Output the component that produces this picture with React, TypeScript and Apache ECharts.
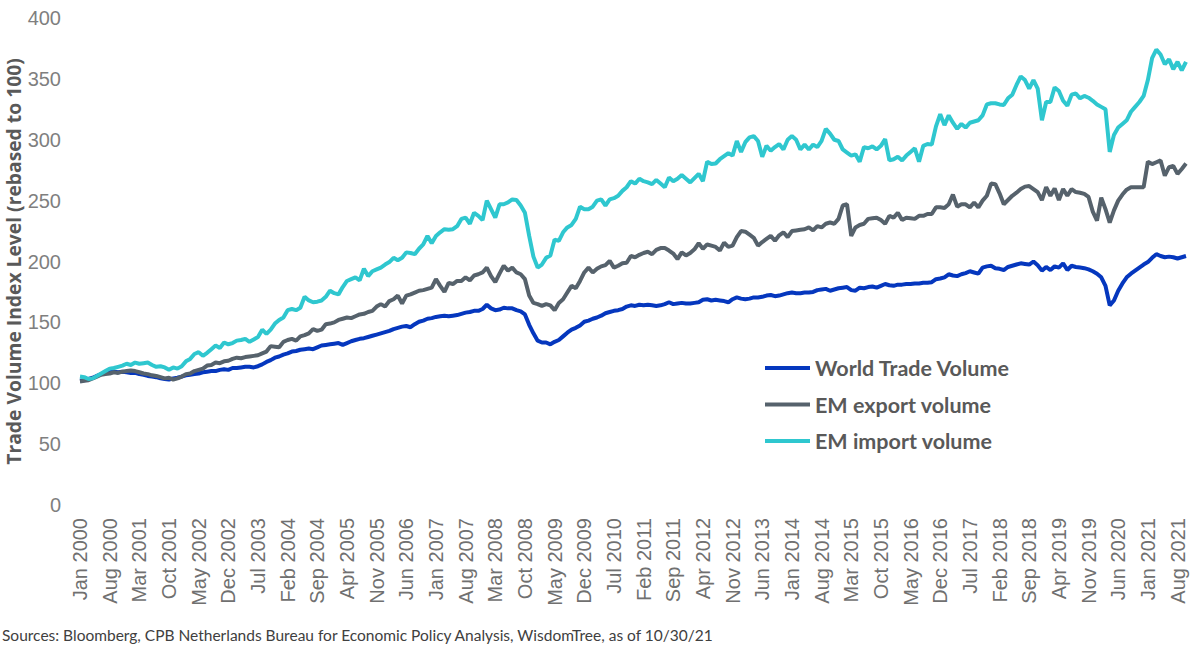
import React, { useEffect, useRef } from "react";
import * as echarts from "echarts";

// Monthly values, Jan 2000 – Oct 2021 (one row per year)
const worldTradeVolume: number[] = [
  102, 102.5, 103.5, 104.5, 106, 107.5, 108.5, 109, 109.5, 109, 109.5, 109,
  108.5, 108.5, 107.5, 107, 106, 105.5, 105, 104, 103.5, 103, 104, 104.5,
  105.5, 106.5, 107, 107.5, 108, 109, 109.5, 110, 110, 111, 111.5, 111,
  112.5, 112.5, 113, 113.5, 113.5, 113, 114, 115.5, 117.5, 119, 121, 122,
  123.5, 124.5, 126, 126.5, 127.5, 128, 128.5, 128, 129.5, 131, 131.5, 132,
  132.5, 133, 131.5, 133, 134.5, 135.5, 136.5, 137, 138, 139, 140, 141,
  142, 143, 144.5, 145.5, 146.5, 147, 146, 148.5, 150.5, 151.5, 153, 153.5,
  154.5, 155, 155.5, 155, 155.5, 156, 157, 158, 158.5, 159.5, 159.5, 161,
  164.5, 161.5, 160, 160.5, 162, 161.5, 161.5, 160, 159, 156.5, 148, 141,
  135, 133.5, 133.5, 132, 134, 135.5, 138.5, 141.5, 144, 145.5, 147.5, 150.5,
  151.5, 153, 154, 155.5, 157.5, 158.5, 159.5, 160, 161, 163, 164, 163.5,
  164.5, 164, 164.5, 164, 163.5, 164, 165, 166.5, 165, 165.5, 166, 165.5,
  165.5, 166, 166.5, 168.5, 169, 168, 168.5, 168, 167.5, 166.5, 169, 170.5,
  169.5, 169, 169.5, 170.5, 170.5, 171, 172, 172.5, 171.5, 172, 173, 174,
  174.5, 174, 174, 174.5, 174.5, 175, 176.5, 177, 177.5, 176, 177, 178,
  178.5, 179, 176.5, 176, 178.5, 178, 179, 179.5, 178.5, 180, 181.5, 180.5,
  180, 181, 181, 181.5, 181.5, 182, 182, 182.5, 182.5, 183, 185.5, 186,
  187, 189.5, 188.5, 188, 189.5, 190.5, 192, 191, 190, 195, 196, 196.5,
  194.5, 194, 193, 195.5, 196.5, 197.5, 198.5, 198, 197.5, 200, 197, 192.5,
  195.5, 193, 196, 195, 198.5, 193, 196.5, 195.5, 195, 194.5, 193.5, 192,
  190, 187, 180, 164, 168, 176, 182, 187, 190, 192.5, 195, 197.5,
  199.5, 203, 206, 204.5, 203.5, 204, 203.5, 202.5, 203.5, 204.5,
];

const emExportVolume: number[] = [
  101.5, 102, 102.5, 104, 105.5, 107, 107.5, 108, 109, 108.5, 109.5, 110,
  110.5, 110, 109, 108, 107.5, 106.5, 106, 105, 104, 104.5, 103, 104,
  105.5, 107.5, 108, 110, 111, 112, 114.5, 115, 117, 116.5, 118, 118.5,
  120, 121, 120.5, 121.5, 122, 122.5, 123, 124.5, 126, 130.5, 130, 129.5,
  134, 135.5, 136.5, 135, 138.5, 139.5, 141, 144.5, 143, 144, 148.5, 149,
  150, 152, 153, 154, 153.5, 155, 156.5, 157, 158.5, 159.5, 163, 165,
  163, 167.5, 169, 172, 165.5, 172, 173, 174.5, 176, 176.5, 177.5, 178.5,
  185.5, 180, 175, 182.5, 181.5, 184, 184, 187, 184.5, 188.5, 189.5, 191,
  195, 188, 183, 190, 196.5, 192.5, 195, 191, 189.5, 185.5, 172, 166,
  165, 163.5, 165, 164, 160, 166, 169, 174.5, 180, 178, 184, 191,
  195, 191, 194, 196, 197, 200.5, 195, 196.5, 198.5, 199, 204.5, 203.5,
  205.5, 207, 208, 206, 209.5, 211, 211, 209, 206.5, 202, 207.5, 205,
  207, 210, 215, 210.5, 214, 213, 212, 209, 215.5, 212, 213, 220,
  225, 224.5, 222, 219.5, 213, 216, 218.5, 221, 217, 221.5, 224, 220,
  225, 225.5, 226, 226.5, 228, 225.5, 229, 228, 231, 232, 231, 235,
  246, 247, 221, 228, 230, 231, 235, 235.5, 236, 234, 231, 237.5,
  236, 240, 234, 236, 235.5, 235, 237.5, 237.5, 239, 239, 244.5, 244.5,
  244, 247, 255, 245, 247, 247, 244.5, 248.5, 244.5, 250, 254, 264,
  263.5, 256, 247, 250.5, 254, 256.5, 259.5, 261.5, 262, 259.5, 257, 250.5,
  261, 254, 260, 250.5, 259.5, 254, 259.5, 257, 256.5, 255.5, 253, 241,
  233.5, 252.5, 243, 232, 242, 250, 255, 259, 261, 261, 261, 261,
  282, 280, 281.5, 283, 270.5, 277.5, 278.5, 272, 276, 280.5,
];

const emImportVolume: number[] = [
  105.5, 105, 103.5, 104, 106, 108, 110, 112, 112.5, 113.5, 114.5, 116,
  115, 117, 116, 116.5, 117, 115, 113.5, 114, 113, 111, 113, 112,
  114, 118, 120, 124, 125.5, 122.5, 125, 128, 131, 129, 133.5, 132,
  133, 135, 135.5, 136.5, 134, 136, 138, 144, 140.5, 144, 149, 152,
  154, 160, 161, 160, 162, 171, 168, 166.5, 167, 168, 171, 176,
  174, 173, 179, 184, 185.5, 187, 184.5, 194, 188, 192, 193.5, 195,
  197.5, 199.5, 203, 201, 203, 207.5, 207, 206, 210.5, 214, 221, 215,
  221, 224, 226.5, 226, 226.5, 229, 235, 236, 231, 240, 237.5, 234,
  250, 243, 236, 247, 247, 248.5, 251, 250.5, 246, 240, 221, 204,
  195, 197.5, 203, 205, 218, 217, 224, 228, 230, 235, 245, 243,
  243, 245, 250, 251, 246, 251, 252, 254, 258, 261, 266, 264,
  268, 266, 265, 263.5, 267, 264, 261, 269, 266, 268, 271, 268,
  265, 268.5, 272, 266, 282, 280, 280.5, 284, 286.5, 289, 287, 299,
  290, 298, 302, 303, 299, 286, 295, 291, 294, 296.5, 292, 300,
  303, 300, 292, 296, 292, 296, 294, 299, 309, 305, 300, 299,
  292, 289.5, 287, 288, 282, 294, 293, 294.5, 292, 295, 300.5, 283,
  284, 286, 283, 287, 290, 293, 282, 295, 296.5, 296, 311, 321,
  312, 320, 314, 309, 313, 310, 314, 315, 316, 320, 329, 330,
  330, 329, 328.5, 334, 337, 345, 352, 349, 342, 349, 342, 316,
  331, 331, 343, 340, 332, 328, 337, 338, 334, 336, 334.5, 332,
  329, 327, 325, 290, 304, 310, 313, 316, 323, 327, 331, 336,
  349, 367, 374, 370, 362, 366, 358, 364, 357, 364,
];

const MONTH_NAMES = ["Jan", "Feb", "Mar", "Apr", "May", "Jun", "Jul", "Aug", "Sep", "Oct", "Nov", "Dec"];
const START_YEAR = 2000;
const categories: string[] = worldTradeVolume.map(
  (_, i) => `${MONTH_NAMES[i % 12]} ${START_YEAR + Math.floor(i / 12)}`
);

const seriesNames = ["World Trade Volume", "EM export volume", "EM import volume"];
const seriesColors = ["#0537BE", "#56626C", "#2FC7CF"];
const yAxisTitle = "Trade Volume Index Level (rebased to 100)";
const sourceNote =
  "Sources: Bloomberg, CPB Netherlands Bureau for Economic Policy Analysis, WisdomTree, as of 10/30/21";

export default function App() {
  const ref = useRef<HTMLDivElement>(null);

  useEffect(() => {
    if (!ref.current) return;
    const chart = echarts.init(ref.current, undefined, { renderer: "svg" });
    const data = [worldTradeVolume, emExportVolume, emImportVolume];
    chart.setOption({
      animation: false,
      backgroundColor: "#ffffff",
      grid: {
        left: 80,
        right: 14,
        top: 18,
        bottom: 149,
        containLabel: false,
        outerBoundsMode: "none",
      },
      legend: {
        orient: "vertical",
        left: 765,
        top: 357,
        padding: 0,
        icon: "rect",
        itemWidth: 45,
        itemHeight: 4,
        itemGap: 14.5,
        data: seriesNames,
        textStyle: {
          fontFamily: "Lato",
          fontWeight: "bold",
          fontSize: 21.5,
          lineHeight: 21,
          color: "#595959",
        },
      },
      xAxis: {
        type: "category",
        boundaryGap: false,
        data: categories,
        axisLine: { show: false },
        axisTick: { show: false },
        splitLine: { show: false },
        axisLabel: {
          interval: 6,
          rotate: 90,
          margin: 13,
          fontFamily: "Liberation Sans",
          fontSize: 20,
          color: "#707070",
        },
      },
      yAxis: {
        type: "value",
        min: 0,
        max: 400,
        interval: 50,
        name: yAxisTitle,
        nameLocation: "middle",
        nameRotate: 90,
        nameGap: 57,
        nameMoveOverlap: false,
        nameTextStyle: {
          fontFamily: "Open Sans",
          fontWeight: "bold",
          fontSize: 19.3,
          lineHeight: 20,
          color: "#595959",
        },
        axisLine: { show: false },
        axisTick: { show: false },
        splitLine: { show: false },
        axisLabel: {
          margin: 19,
          fontFamily: "Liberation Sans",
          fontSize: 20,
          color: "#7f7f7f",
        },
      },
      series: seriesNames.map((name, i) => ({
        name,
        type: "line",
        data: data[i],
        symbol: "none",
        showSymbol: false,
        lineStyle: { width: 4, color: seriesColors[i] },
        itemStyle: { color: seriesColors[i] },
        emphasis: { disabled: true },
      })),
      graphic: [
        {
          type: "text",
          left: 2,
          top: 627,
          style: {
            text: sourceNote,
            font: "15.5px Lato",
            fill: "#404040",
          },
        },
      ],
    });
    return () => chart.dispose();
  }, []);

  return (
    <div
      ref={ref}
      style={{ position: "absolute", left: 0, top: 0, width: 1200, height: 654 }}
    />
  );
}
